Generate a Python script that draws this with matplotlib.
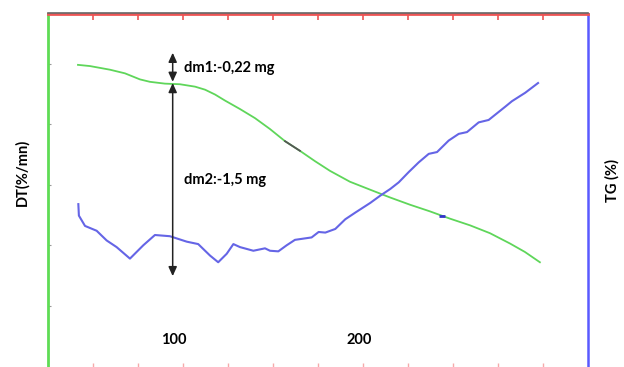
import matplotlib
matplotlib.use("Agg")
import matplotlib.pyplot as plt
from matplotlib.lines import Line2D

plt.rcParams['font.family'] = ['Lato', 'DejaVu Sans']

# TG curve (green)
tg_temp = [48.1, 54.6, 65.4, 73.5, 81.6, 87.0, 95.1, 103.2, 111.4, 116.8,
           122.2, 127.6, 135.7, 143.8, 151.9, 160.0, 168.1, 176.2, 184.3, 195.1,
           205.9, 216.8, 227.6, 238.4, 249.2, 260.0, 270.8, 281.6, 289.7, 297.8]
tg_val = [4.98, 4.96, 4.90, 4.84, 4.74, 4.70, 4.67, 4.66, 4.62, 4.57,
          4.49, 4.39, 4.25, 4.10, 3.92, 3.72, 3.56, 3.39, 3.23, 3.05,
          2.92, 2.79, 2.67, 2.56, 2.44, 2.33, 2.20, 2.03, 1.89, 1.72]

# DT curve (blue)
dt_temp = [48.3, 48.6, 51.9, 58.2, 63.6, 69.0, 76.2, 83.4, 89.7, 97.8,
           106.9, 113.1, 119.5, 123.9, 128.5, 132.1, 135.7, 142.9, 149.2, 151.9,
           156.4, 160.9, 165.4, 174.4, 178.2, 181.8, 187.2, 192.6, 198.0, 206.1,
           211.5, 216.9, 221.5, 226.9, 232.3, 237.7, 242.2, 248.5, 253.9, 258.4,
           264.7, 270.1, 274.6, 279.1, 282.7, 289.9, 296.8]
dt_val = [2.68, 2.49, 2.32, 2.24, 2.08, 1.97, 1.78, 2.00, 2.17, 2.15,
          2.06, 2.02, 1.83, 1.72, 1.86, 2.02, 1.97, 1.91, 1.95, 1.91,
          1.90, 2.00, 2.09, 2.13, 2.22, 2.21, 2.27, 2.43, 2.54, 2.70,
          2.82, 2.93, 3.04, 3.21, 3.37, 3.51, 3.54, 3.73, 3.84, 3.87,
          4.03, 4.07, 4.18, 4.29, 4.38, 4.52, 4.68]

# small dark mark on the TG curve
mark_temp = [160.0, 168.1]
mark_val = [3.72, 3.56]

x_labels = [100, 200]
dm1_text = "dm1:-0,22 mg"
dm2_text = "dm2:-1,5 mg"
arrow_temp = 99.3
dm1_range = (5.18, 4.70)
dm2_range = (4.68, 1.49)

fig = plt.figure(figsize=(6.24, 3.67), dpi=100)
ax = fig.add_axes([48/624, 0.0, 540/624, 1 - 14/367])

ax.plot(tg_temp, tg_val, color='#5fd65a', lw=1.3)
ax.plot(mark_temp, mark_val, color='#555555', lw=1.3)
ax.plot(dt_temp, dt_val, color='#6565e6', lw=1.5)
ax.plot([244.9], [2.48], marker='_', color='#3333cc', ms=4, mew=2)

ax.set_xlim(31.9, 323.8)
ax.set_ylim(-0.01, 5.82)

# spines
for s in ax.spines.values():
    s.set_visible(False)
ax.spines['left'].set_visible(True)
ax.spines['left'].set_color('#5fdc55')
ax.spines['left'].set_linewidth(2)
ax.spines['right'].set_visible(True)
ax.spines['right'].set_color('#5a5aff')
ax.spines['right'].set_linewidth(1.8)
ax.spines['top'].set_visible(True)
ax.spines['top'].set_color('#ee5555')
ax.spines['top'].set_linewidth(2)
fig.add_artist(Line2D([48/624, 588/624], [1 - 12.5/367] * 2,
                      color='#666666', lw=1.2, transform=fig.transFigure))

ax.set_xticks([])
ax.set_yticks([1, 2, 3, 4, 5])
ax.set_yticklabels([])
ax.tick_params(axis='y', left=True, direction='in', length=2.5, color='#999999')

# top/bottom tick scale
axt = ax.twiny()
axt.set_xlim(0, 12)
axt.set_xticks(range(1, 12))
axt.set_xticklabels([])
axt.tick_params(axis='x', top=True, bottom=False, direction='in', length=4,
                width=1.2, color='#ee5555')
for s in axt.spines.values():
    s.set_visible(False)
axb = ax.twiny()
axb.set_xlim(0, 12)
axb.set_xticks(range(1, 12))
axb.set_xticklabels([])
axb.xaxis.set_ticks_position('bottom')
axb.tick_params(axis='x', bottom=True, top=False, direction='in', length=3,
                width=1.0, color='#f6aaaa')
for s in axb.spines.values():
    s.set_visible(False)

# labels
for v in x_labels:
    ax.text(v, 0.43, str(v), ha='center', va='center', fontsize=10.5, fontweight='bold')

fig.text(22/624, 1 - 172/367, "DT(%/mn)", rotation=90, ha='center', va='center',
         fontsize=10.5, fontweight='bold')
fig.text(612/624, 1 - 180/367, "TG (%)", rotation=90, ha='center', va='center',
         fontsize=10.5, fontweight='bold')

# arrows
ap = dict(arrowstyle='<|-|>,head_length=0.55,head_width=0.25', color='#222222',
          lw=1.1, shrinkA=0, shrinkB=0)
ax.annotate('', xy=(arrow_temp, dm1_range[0]), xytext=(arrow_temp, dm1_range[1]), arrowprops=ap)
ax.annotate('', xy=(arrow_temp, dm2_range[0]), xytext=(arrow_temp, dm2_range[1]), arrowprops=ap)
ax.text(105.4, 4.93, dm1_text, ha='left', va='center', fontsize=10.5, fontweight='bold')
ax.text(105.4, 3.08, dm2_text, ha='left', va='center', fontsize=10.5, fontweight='bold')

fig.savefig('out.png', dpi=100)
